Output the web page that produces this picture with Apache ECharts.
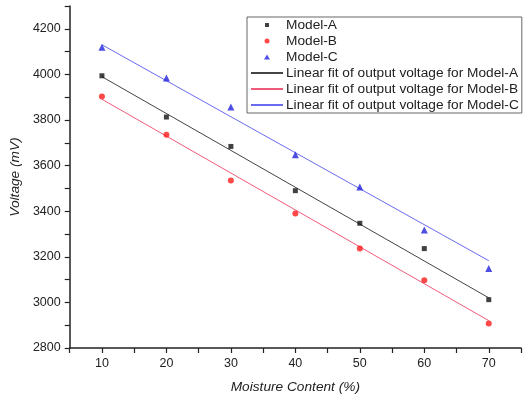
<!DOCTYPE html>
<html>
<head>
<meta charset="utf-8">
<script src="https://cdn.jsdelivr.net/npm/echarts@6/dist/echarts.min.js"></script>
<style>
html,body{margin:0;padding:0;background:#fff;}
#chart{width:524px;height:399px;}
</style>
</head>
<body>
<div id="chart"></div>
<script>
const moisture = [10, 20, 30, 40, 50, 60, 70];
const modelA = [3994, 3813, 3684, 3490, 3347, 3236, 3012];
const modelB = [3903, 3735, 3535, 3390, 3236, 3097, 2907];
const modelC = [4119, 3984, 3857, 3648, 3506, 3317, 3149];
const fitX = [10, 70];
const fitA = [3990, 3020];
const fitB = [3891, 2920];
const fitC = [4130, 3183];
const seriesNames = ['Model-A', 'Model-B', 'Model-C',
  'Linear fit of output voltage for Model-A',
  'Linear fit of output voltage for Model-B',
  'Linear fit of output voltage for Model-C'];
const xTickLabels = [10, 20, 30, 40, 50, 60, 70];
const yTickLabels = [2800, 3000, 3200, 3400, 3600, 3800, 4000, 4200];

const pair = (xs, ys) => xs.map((x, i) => [x, ys[i]]);
const font = '"Liberation Sans", Arial, sans-serif';

// legend icons: small marker centred in a wide (32x5) box
const legendIcons = [
  'path://M0,0M32,5M14,0.5h4v4h-4z',
  'path://M0,0M32,5M18.5,2.5a2.5,2.5 0 1,1 -5,0a2.5,2.5 0 1,1 5,0z',
  'path://M0,0M32,5M16,0L19,5L13,5z'
];
const legendData = seriesNames.map((n, i) => i < 3
  ? {name: n, icon: legendIcons[i]}
  : {name: n, itemStyle: {color: 'rgba(0,0,0,0)', borderWidth: 0, borderColor: 'rgba(0,0,0,0)'}});

const chart = echarts.init(document.getElementById('chart'), null, {renderer: 'canvas'});
chart.setOption({
  animation: false,
  backgroundColor: '#ffffff',
  textStyle: {fontFamily: font},
  grid: {left: 68, right: -3, top: 6, bottom: 49},
  legend: {
    orient: 'vertical',
    left: 247,
    top: 17,
    padding: [0, 3, 0, 3],
    itemGap: 0,
    itemWidth: 32,
    itemHeight: 5,
    itemStyle: {borderWidth: 0},
    borderColor: '#666',
    borderWidth: 1,
    textStyle: {fontFamily: font, fontSize: 13.7, color: '#222', lineHeight: 16, padding: [0, 0, 0, -2]},
    data: legendData
  },
  xAxis: {
    type: 'value',
    min: 5, max: 75, interval: 5,
    name: 'Moisture Content (%)',
    nameLocation: 'middle',
    nameGap: 32,
    nameTextStyle: {fontFamily: font, fontSize: 13.7, fontStyle: 'italic', color: '#222'},
    axisLine: {show: true, onZero: false, lineStyle: {color: '#222', width: 1.5}},
    axisTick: {show: true, inside: false, length: 5, lineStyle: {color: '#222', width: 1.2}},
    axisLabel: {
      margin: 9, fontSize: 12.5, color: '#222', fontFamily: font,
      formatter: v => xTickLabels.includes(v) ? String(v) : ''
    },
    splitLine: {show: false}
  },
  yAxis: {
    type: 'value',
    min: 2800, max: 4300, interval: 100,
    name: 'Voltage (mV)',
    nameLocation: 'middle',
    nameGap: 46,
    nameRotate: 90,
    nameTextStyle: {fontFamily: font, fontSize: 13.7, fontStyle: 'italic', color: '#222'},
    axisLine: {show: true, onZero: false, lineStyle: {color: '#222', width: 1.5}},
    axisTick: {show: true, inside: false, length: 5, lineStyle: {color: '#222', width: 1.2}},
    axisLabel: {
      margin: 9, fontSize: 12.5, color: '#222', fontFamily: font,
      formatter: v => yTickLabels.includes(v) ? String(v) : ''
    },
    splitLine: {show: false}
  },
  series: [
    {name: seriesNames[0], type: 'scatter', symbol: 'rect', symbolSize: 5, z: 5,
     itemStyle: {color: '#111'}, data: pair(moisture, modelA)},
    {name: seriesNames[1], type: 'scatter', symbol: 'circle', symbolSize: 6, z: 5,
     itemStyle: {color: '#ff1a1a'}, data: pair(moisture, modelB)},
    {name: seriesNames[2], type: 'scatter', symbol: 'triangle', symbolSize: 7, z: 5,
     itemStyle: {color: '#2222dd'}, data: pair(moisture, modelC)},
    {name: seriesNames[3], type: 'line', symbol: 'none', z: 3,
     itemStyle: {color: '#444'}, lineStyle: {color: '#444', width: 1}, data: pair(fitX, fitA)},
    {name: seriesNames[4], type: 'line', symbol: 'none', z: 3,
     itemStyle: {color: '#ef5b7a'}, lineStyle: {color: '#ef5b7a', width: 1}, data: pair(fitX, fitB)},
    {name: seriesNames[5], type: 'line', symbol: 'none', z: 3,
     itemStyle: {color: '#6b6bef'}, lineStyle: {color: '#6b6bef', width: 1}, data: pair(fitX, fitC)}
  ]
});
</script>
</body>
</html>
